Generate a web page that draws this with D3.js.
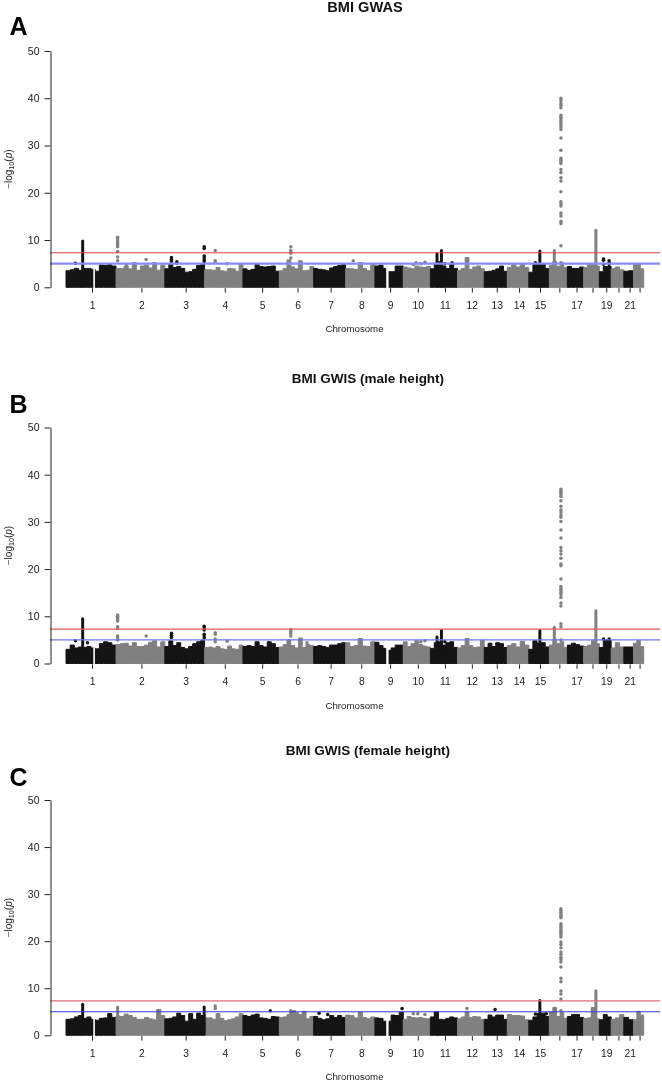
<!DOCTYPE html>
<html><head><meta charset="utf-8">
<script src="https://cdn.jsdelivr.net/npm/d3@7"></script>
<style>html,body{margin:0;padding:0;background:#fff}svg{display:block;filter:blur(0.35px)}text{font-family:"Liberation Sans",Arial,sans-serif}</style>
</head><body><svg id="c" width="662" height="1083"></svg>
<script>
const chromosomes=d3.range(1,23);
const chrLengths=[249,243,198,191,181,171,159,146,141,135,135,133,115,107,102,90,81,78,59,63,48,51];
const tickLabels=["1","2","3","4","5","6","7","8","9","10","11","12","13","14","15","","17","","19","","21",""];
const yTicks=[0,10,20,30,40,50];
const genomeWide=7.3, suggestive=5;
const titles=["BMI GWAS","BMI GWIS (male height)","BMI GWIS (female height)"];
const letters=["A","B","C"];
// centromere gaps [chr, fromMb, toMb]
const gaps=[[1,136,144],[9,56,68]];
// top of the dense cloud, per chromosome, in equal bins along each chromosome
const skylineA=[
[3.5,3.7,4.0,3.6,4.0,4.0,3.8,3.4,4.7,4.6,4.8,4.5],
[4.0,4.0,4.5,3.9,5.2,3.6,4.5,4.7,4.1,5.2,3.6,4.7],
[3.9,5.0,4.2,4.4,4.0,3.2,3.3,3.8,4.6,5.0],
[3.7,3.7,3.6,4.2,3.5,3.4,4.0,3.9,3.4,5.0],
[3.9,3.6,3.8,5.0,4.4,4.3,4.4,4.5,3.4],
[3.5,4.0,5.8,4.3,3.9,5.6,3.5,3.6,4.4],
[4.0,3.8,3.7,3.5,4.1,4.4,4.6,4.8],
[4.0,3.9,3.8,5.2,4.0,3.5,4.8],
[4.5,4.7,4.0,3.3,3.3,4.5,4.5],
[4.3,4.1,3.9,4.5,4.3,4.2,4.4],
[3.9,5.0,5.4,4.5,4.0,5.0,4.0],
[3.6,4.0,6.3,3.8,4.3,4.5,3.9],
[3.3,3.4,3.6,3.9,4.5,3.4],
[4.2,4.8,4.3,4.9,4.2],
[3.2,4.8,5.0,5.0,4.0],
[4.6,5.5,4.4,5.2,4.2],
[4.4,4.0,4.0,4.3],
[4.2,4.8,5.0,4.5],
[3.3,4.4,4.4],
[4.0,4.3,3.7],
[3.4,3.5],
[4.8,5.0,3.9]];
const skylineB=[
[3.0,3.9,3.3,3.5,3.4,3.6,3.3,3.1,4.2,4.6,4.4,3.9],
[4.0,4.2,4.3,3.7,4.4,3.6,3.6,3.9,4.5,4.8,3.5,4.6],
[3.6,4.8,3.8,4.4,3.4,3.1,3.6,4.2,4.6,4.9],
[3.4,3.5,3.3,3.6,3.1,3.0,3.7,3.1,3.0,3.9],
[3.6,3.8,3.6,4.6,3.8,3.5,4.6,4.2,3.4],
[3.5,4.0,5.0,3.8,3.3,5.4,3.4,4.0,3.8],
[3.6,3.8,3.6,3.4,3.9,3.9,4.2,4.4],
[4.4,3.6,3.8,5.3,3.7,3.6,4.6],
[4.5,3.8,3.2,2.8,3.3,3.9,3.9],
[4.6,3.6,4.2,4.8,4.0,3.7,3.5],
[3.2,4.4,4.6,3.9,4.4,4.6,3.4],
[3.3,3.8,5.3,3.8,3.4,3.5,4.9],
[3.4,4.3,3.6,4.4,4.2,3.4],
[3.8,4.2,3.5,4.7,3.9],
[3.0,4.8,4.3,4.4,3.5],
[3.9,5.2,4.2,4.6,3.4],
[3.9,4.3,4.0,3.7],
[3.6,3.9,4.8,4.2],
[3.4,5.0,4.9],
[3.3,4.4,3.5],
[3.5,3.5],
[4.3,4.9,3.6]];
const skylineC=[
[3.4,3.5,3.9,4.2,3.6,3.9,3.4,3.2,3.6,3.7,4.6,3.8],
[4.1,4.0,4.5,4.2,3.8,3.4,3.4,3.8,3.5,3.3,5.5,4.2],
[3.5,3.6,3.9,4.7,4.2,3.0,4.6,3.4,4.7,4.2],
[3.7,3.7,3.4,4.6,3.6,3.1,3.3,3.5,3.9,4.6],
[4.2,4.0,4.3,4.5,3.7,3.6,3.4,4.0,3.9],
[3.8,3.9,4.4,5.2,4.8,4.4,5.1,3.5,4.0],
[4.0,3.6,3.3,3.5,4.2,3.8,4.2,3.8],
[4.3,4.2,3.7,4.9,3.8,3.5,3.9],
[3.7,3.6,3.0,3.0,4.3,4.2,4.9],
[3.4,4.0,3.8,3.7,3.8,3.6,3.5],
[3.9,5.0,3.4,3.3,3.6,3.9,3.7],
[3.5,3.9,5.0,3.8,4.0,3.9,3.4],
[3.4,4.3,3.9,4.3,4.3,3.4],
[4.4,4.2,4.2,4.1,3.3],
[3.2,3.9,4.6,4.7,4.0],
[5.0,5.9,4.0,4.8,3.6],
[4.0,4.4,4.4,3.8],
[3.6,3.7,5.9,3.5],
[3.3,4.4,3.9],
[3.4,3.7,4.4],
[3.8,3.3],
[3.3,5.1,4.3]];
// solid columns [chr, Mb, top]
const columnsA=[[1,83,10.0],[11,55,8.0],[11,33,7.3],[15,55,7.9],[16,25,8.0],[18,61,12.3]];
const columnsB=[[1,83,9.7],[11,55,7.2],[11,33,5.8],[15,55,7.2],[16,25,7.9],[18,61,11.4]];
const columnsC=[[1,83,6.8],[2,8,6.2],[3,196,6.2],[11,35,5.0],[15,55,7.6],[16,25,6.0],[18,61,9.7],[18,43,5.9]];
// separate points [chr, Mb, values]
const dotsA=[
[1,47,[5.1]],[2,8,[10.6,10.2,9.8,9.4,9.0,8.6,7.6,6.4,5.6]],[2,52,[4.8]],[2,150,[5.9]],
[3,33,[6.3,5.9,5.5]],[3,60,[5.4,5.1]],[3,196,[8.6,8.2,6.6,6.2,5.8,5.4]],
[4,53,[7.8,5.6,5.3]],[4,112,[5.0]],[6,57,[8.6,7.8,7.2,6.2]],[8,38,[5.6]],
[10,50,[4.8]],[10,63,[5.2]],[10,88,[5.0]],[10,108,[5.3]],[11,72,[5.0]],[11,108,[5.2]],[15,33,[5.2]],
[16,58,[40,39.5,39,38.5,38,36.4,36,35.6,35.2,34.8,34.4,33.9,33.4,31.6,29,27.3,26.9,26.5,26.2,24.9,24.3,23.2,22.5,20.2,18.1,17.7,17.2,15.7,15.1,14,13.5,8.8,5.2]],
[19,21,[6.0,5.7,4.9]],[19,49,[5.6,5.2,4.8]]];
const dotsB=[
[1,47,[4.8]],[1,107,[4.4]],[2,8,[10.3,10,9.7,9.3,9,7.8,7.4,5.8,5.4,5]],[2,150,[5.8]],
[3,33,[6.4,6.0,5.5]],[3,196,[7.9,7.5,7.1,6.2,5.8,5.4]],[4,53,[6.5,6.2,5.2,4.6]],[4,112,[4.7]],
[6,57,[7.2,6.8,6.4,5.8]],[6,138,[4.4]],[10,88,[4.6]],[10,108,[4.8]],[11,72,[4.6]],
[16,58,[36.9,36.5,36.2,35.8,35.4,34.5,33.3,32.6,32.1,31.5,31,30.1,28.3,26.6,24.6,23.9,23.2,22.3,21.1,20.7,17.9,16.3,15.9,15.5,15.1,14.6,14,12.8,12.2,8.4,7.8,5.0]],
[19,21,[5.2]],[19,49,[5.2]]];
const dotsC=[
[4,53,[6.2,5.7]],[5,136,[5.2]],[6,57,[5.2,4.7]],[6,76,[5.0,4.6]],[7,27,[4.7]],[7,70,[4.4]],[9,135,[5.7]],
[10,50,[4.6]],[10,72,[4.6]],[10,108,[4.4]],[12,47,[5.7]],[13,54,[5.5]],[15,33,[4.5]],[15,87,[4.6]],
[16,58,[26.9,26.5,26.1,25.7,25.3,25,23.7,23.3,22.9,22.5,22.1,21.7,21.3,20.9,19.8,19.3,18.6,17.7,17.2,16.6,16.1,15.6,14.5,12.1,11.4,9.4,8.8,7.7,5.2]]];
const panels=[
 {i:0,top:51,bottom:287.3,skyline:skylineA,columns:columnsA,dots:dotsA,titleX:365,titleY:11.5,titleSize:14.6,letterY:35,red:["#e03c3c",1],blue:["#8a8af2",2.2]},
 {i:1,top:427.5,bottom:663.5,skyline:skylineB,columns:columnsB,dots:dotsB,titleX:368,titleY:383,titleSize:13.5,letterY:413,red:["#e45a5a",1.3],blue:["#7272f0",1.3]},
 {i:2,top:800,bottom:1035.3,skyline:skylineC,columns:columnsC,dots:dotsC,titleX:368,titleY:755,titleSize:13.5,letterY:786,red:["#dc7070",1.3],blue:["#3838e4",1]}];

const starts=d3.cumsum([0].concat(chrLengths.slice(0,-1)));
const total=d3.sum(chrLengths);
const x=d3.scaleLinear().domain([0,total]).range([66,643.7]);
const pos=(c,mb)=>x(starts[c-1]+mb);
const colour=c=>c%2?"#141414":"#808080";
const tickShift=5;
const svg=d3.select("#c");
const ink="#222";

panels.forEach(p=>{
 const y=d3.scaleLinear().domain([0,50]).range([p.bottom,p.top]);
 const g=svg.append("g");
 const area=d3.area().x(d=>d[0]).y0(y(0)).y1(d=>y(d[1])).curve(d3.curveStepAfter);
 p.skyline.forEach((bins,k)=>{
  const c=chromosomes[k],w=chrLengths[k]/bins.length;
  const pts=bins.map((v,j)=>[pos(c,j*w),v]);
  pts.push([pos(c,chrLengths[k]),bins[bins.length-1]]);
  g.append("path").attr("d",area(pts)).attr("fill",colour(c)).attr("stroke",colour(c)).attr("stroke-width",1).attr("stroke-linejoin","round");
 });
 gaps.forEach(([c,a,b])=>{
  g.append("rect").attr("x",pos(c,a)).attr("width",pos(c,b)-pos(c,a)).attr("y",y(9)).attr("height",y(-0.2)-y(9)).attr("fill","#fff");
 });
 const line=d3.line();
 p.columns.forEach(([c,mb,top])=>{
  g.append("path").attr("d",line([[pos(c,mb),y(0.3)],[pos(c,mb),y(top)+1]])).attr("stroke",colour(c)).attr("stroke-width",3).attr("stroke-linecap","round").attr("fill","none");
 });
 p.dots.forEach(([c,mb,vals])=>{
  g.selectAll(null).data(vals).enter().append("circle").attr("cx",pos(c,mb)).attr("cy",d=>y(d)).attr("r",1.75).attr("fill",colour(c));
 });
 [[genomeWide,p.red],[suggestive,p.blue]].forEach(([v,s])=>{
  g.append("line").attr("x1",50).attr("x2",660).attr("y1",y(v)).attr("y2",y(v)).attr("stroke",s[0]).attr("stroke-width",s[1]);
 });
 const ya=svg.append("g").attr("transform","translate(50.5,0)").call(d3.axisLeft(y).tickValues(yTicks).tickSize(6).tickPadding(5).tickSizeOuter(0));
 ya.selectAll("path,line").attr("stroke",ink);
 ya.selectAll("text").attr("font-size",10.5).attr("fill",ink).attr("font-family","Liberation Sans");
 const tickPos=chromosomes.map((c,k)=>starts[k]+chrLengths[k]/2+tickShift);
 const xa=svg.append("g").attr("transform",`translate(0,${p.bottom+0.8})`).call(d3.axisBottom(x).tickValues(tickPos).tickSize(4.5).tickPadding(9).tickFormat((d,k)=>tickLabels[k]));
 xa.select(".domain").remove();
 xa.selectAll("line").attr("stroke",ink);
 xa.selectAll("text").attr("font-size",10.3).attr("fill",ink).attr("font-family","Liberation Sans");
 svg.append("text").attr("x",354.5).attr("y",p.bottom+45).attr("text-anchor","middle").attr("font-size",9.7).attr("fill",ink).text("Chromosome");
 svg.append("text").attr("x",p.titleX).attr("y",p.titleY).attr("text-anchor","middle").attr("font-size",p.titleSize).attr("font-weight","bold").attr("fill","#111").text(titles[p.i]);
 svg.append("text").attr("x",9.5).attr("y",p.letterY).attr("font-size",25).attr("font-weight","bold").attr("fill","#000").text(letters[p.i]);
 const yl=svg.append("text").attr("transform",`translate(11.5,${(p.top+p.bottom)/2}) rotate(-90)`).attr("text-anchor","middle").attr("font-size",10).attr("fill",ink);
 yl.append("tspan").attr("fill","#3a50a0").text("\u2212");
 yl.append("tspan").text("log");
 yl.append("tspan").attr("font-size",7.2).attr("dy",2).text("10");
 yl.append("tspan").attr("dy",-2).text("(");
 yl.append("tspan").attr("font-style","italic").text("p");
 yl.append("tspan").text(")");
});
</script></body></html>
